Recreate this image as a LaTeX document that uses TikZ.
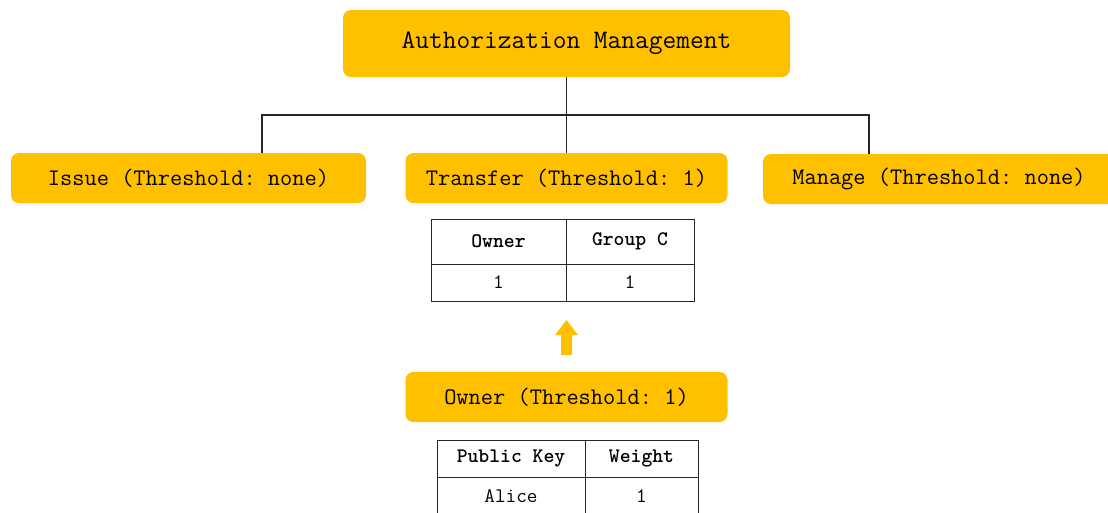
\documentclass[tikz,border=0pt]{standalone}
\usepackage{tikz}
\definecolor{gold}{RGB}{255,192,0}
\frenchspacing
\begin{document}
\begin{tikzpicture}[x=0.75pt,y=-0.75pt,
  gbox/.style={fill=gold,rounded corners=6pt,inner sep=0pt,text=black,font=\ttfamily\frenchspacing\fontsize{17.8}{20}\selectfont,minimum height=37.5pt},
  conn/.style={draw=black!85,line width=0.8pt},
  cell/.style={draw=black!85,line width=0.7pt,inner sep=0pt,font=\ttfamily\fontsize{15.5}{18}\selectfont},
  hcell/.style={cell,font=\ttfamily\bfseries\fontsize{15.5}{18}\selectfont}]
\clip (0,0) rectangle (1108,512);
% top
\node[gbox,minimum width=335.25pt,minimum height=50.25pt,font=\ttfamily\fontsize{20}{24}\selectfont] (top) at (566.5,43.5) {Authorization Management};
\node[gbox,minimum width=266.25pt] (issue) at (188.5,178) {Issue (Threshold: none)};
\node[gbox,minimum width=241.5pt] (transfer) at (566.5,178) {Transfer (Threshold: 1)};
\node[gbox,minimum width=264pt] (manage) at (939,179) {Manage (Threshold: none)};
\node[gbox,minimum width=241.5pt] (owner) at (566.5,397) {Owner (Threshold: 1)};
% connectors
\coordinate (j) at (566.5,115);
\coordinate (dl) at (262,153);
\coordinate (dr) at (869,154);
\draw[conn] (top.south) -- (j);
\draw[conn] (j) -- (transfer.north);
\draw[conn] (dl) |- (j) -| (dr);
% table 1
\node[hcell,minimum width=101.25pt,minimum height=33.75pt] (t1a) at (498.5,241.5) {Owner};
\node[hcell,minimum width=96pt,minimum height=33.75pt] (t1b) at (630,241.5) {Group C};
\node[cell,minimum width=101.25pt,minimum height=27.75pt] (t1c) at (498.5,282.5) {1};
\node[cell,minimum width=96pt,minimum height=27.75pt] (t1d) at (630,282.5) {1};
% arrow
\fill[gold] (561,355) -- (561,335) -- (555,335) -- (566.5,320) -- (578,335) -- (572,335) -- (572,355) -- cycle;
% table 2
\node[hcell,minimum width=111pt,minimum height=27.75pt] (t2a) at (511,458.5) {Public Key};
\node[hcell,minimum width=84.75pt,minimum height=27.75pt] (t2b) at (641.5,458.5) {Weight};
\node[cell,minimum width=111pt,minimum height=28.5pt] (t2c) at (511,496) {Alice};
\node[cell,minimum width=84.75pt,minimum height=28.5pt] (t2d) at (641.5,496) {1};
\end{tikzpicture}
\end{document}
